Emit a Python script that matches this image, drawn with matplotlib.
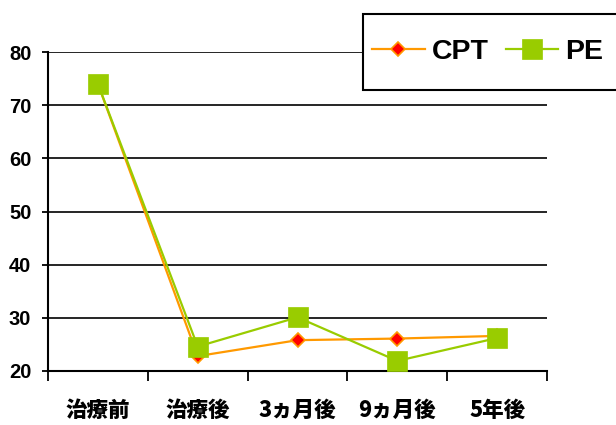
import matplotlib
matplotlib.use("Agg")
import matplotlib.pyplot as plt
from matplotlib.patches import Rectangle
import numpy as np

categories = ["治療前", "治療後", "3ヵ月後", "9ヵ月後", "5年後"]
cpt = [74.0, 22.8, 25.8, 26.1, 26.6]
pe = [74.0, 24.6, 30.1, 21.9, 26.2]
yticks = [20, 30, 40, 50, 60, 70, 80]

plt.rcParams['font.family'] = ['Liberation Sans', 'Noto Sans CJK JP', 'DejaVu Sans']

fig = plt.figure(figsize=(6.16, 4.25), dpi=100)
ax = fig.add_axes([48/616, 1-371/425, (547-48)/616, (371-52)/425])

x = np.arange(len(categories)) + 0.5
l1, = ax.plot(x, cpt, color="#FF9900", lw=1.6, marker='D', markersize=7,
              markerfacecolor="#FF0000", markeredgecolor="#FF9900", markeredgewidth=1.2,
              label="CPT", zorder=3)
l2, = ax.plot(x, pe, color="#99CC00", lw=1.6, marker='s', markersize=15,
              markerfacecolor="#99CC00", markeredgecolor="#99CC00", markeredgewidth=0.5,
              label="PE", zorder=4)

ax.set_xlim(0, len(categories))
ax.set_ylim(20, 80)
ax.set_yticks(yticks)
ax.set_yticklabels([str(v) for v in yticks], fontsize=14.5, fontweight='bold')
ax.yaxis.grid(True, color='black', lw=1.2)
ax.set_axisbelow(True)

ax.set_xticks(np.arange(len(categories) + 1))
ax.set_xticklabels([])
ax.set_xticks(x, minor=True)
ax.set_xticklabels(categories, minor=True, fontsize=15.5, fontweight='heavy',
                   family=['Noto Sans CJK JP', 'Liberation Sans'])
ax.tick_params(axis='x', which='major', length=7, width=1.3, direction='out', color='black')
ax.tick_params(axis='x', which='minor', length=0, pad=20)
ax.tick_params(axis='y', length=4, width=1.3, pad=8)

for s in ['top', 'right']:
    ax.spines[s].set_visible(False)
for s in ['left', 'bottom']:
    ax.spines[s].set_linewidth(1.5)
    ax.spines[s].set_color('black')

# legend frame extending beyond figure edge
rect = Rectangle((363/616, 1-90/425), 0.5, (90-14)/425, transform=fig.transFigure,
                 facecolor='white', edgecolor='black', lw=1.5, zorder=10)
fig.add_artist(rect)
leg = fig.legend(handles=[l1, l2], loc='center left', bbox_to_anchor=(372/616, 1-52/425),
                 ncol=2, frameon=False, prop={'size': 20.5, 'weight': 'bold'},
                 handlelength=1.85, handletextpad=0.25, columnspacing=0.6, borderaxespad=0,
                 borderpad=0)
leg.set_zorder(11)

fig.savefig("out.png", dpi=100)
